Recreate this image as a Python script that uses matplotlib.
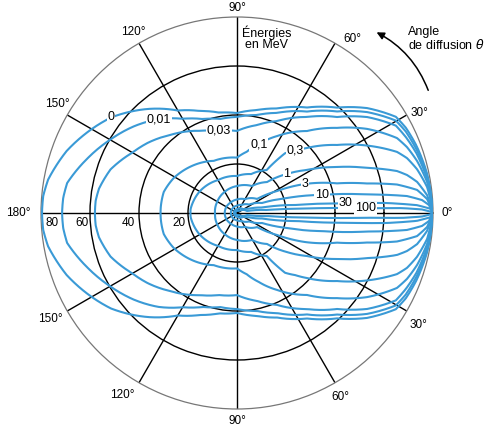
import numpy as np
import matplotlib
matplotlib.use('Agg')
import matplotlib.pyplot as plt

plt.rcParams['font.family'] = ['Liberation Sans', 'DejaVu Sans']

# cross section (per steradian) vs scattering angle, upper half only
energies = ['0', '0,01', '0,03', '0,1', '0,3', '1', '3', '10', '30', '100']

theta_0 = [0, 11.9, 20.7, 26.8, 31.2, 38.9, 46.5, 56.4, 69, 79, 90, 100, 110, 120, 130, 142.8, 150, 160, 170, 175, 180]
sigma_0 = [80, 79.2, 78.2, 77.2, 75.8, 68.2, 59.3, 51.7, 45.7, 42.8, 40.8, 41.6, 44.3, 48.3, 55.5, 64.5, 68.5, 74, 78.3, 79.4, 79.6]

theta_001 = [0, 11.3, 19.6, 25.8, 30.2, 37.8, 45.4, 55.4, 68.2, 78.5, 90, 100, 110, 120, 129.8, 140, 150, 160, 170, 175, 180]
sigma_001 = [80, 79, 77.7, 76.5, 75, 67.2, 58.2, 50.3, 44, 40.8, 39.2, 39, 40.8, 44.4, 49.9, 55, 59.8, 65, 70.4, 71.2, 71.4]

theta_003 = [0, 10.4, 18.4, 24.1, 28.8, 36.4, 43.8, 53.9, 66.5, 77.2, 90, 102.6, 114, 130.5, 142, 150, 161, 170, 175, 180]
sigma_003 = [80, 78.8, 77.2, 75.6, 74, 66, 56.6, 48.5, 40.9, 36.8, 33.5, 34.3, 36.7, 41.9, 46.4, 49.3, 54.6, 57.2, 57.9, 58]

theta_01 = [0, 9.3, 16.1, 21.2, 25.1, 32.9, 40.4, 49.5, 62.5, 72.5, 81, 90, 114, 135, 151, 164, 175, 180]
sigma_01 = [80, 78.6, 76.5, 74.4, 72.1, 63.2, 53.6, 44, 35.4, 29.5, 25.3, 22.6, 23.3, 26.8, 29.5, 31.1, 31.2, 31.2]

theta_03 = [0, 7.8, 13.7, 17.9, 20.9, 27.4, 34.2, 42.9, 46.9, 51.2, 55.4, 70, 90, 120, 150, 175, 180]
sigma_03 = [80, 78.3, 75.6, 72.9, 69.9, 59.8, 49.4, 39, 34.7, 31.3, 21.3, 16.9, 15.1, 15.5, 17.6, 19, 19]

theta_1 = [0, 5.4, 9.8, 12.6, 14.7, 19.1, 24.7, 31.6, 38, 45.9, 60.9, 90, 120, 150, 180]
sigma_1 = [80, 77.9, 74.6, 71.1, 67.5, 56.2, 44.9, 33.5, 25.9, 17.6, 12.6, 11, 10, 9.3, 9]

theta_3 = [0, 4.2, 7.3, 10.1, 12.8, 16.5, 23.1, 28.8, 35, 60, 90, 120, 150, 180]
sigma_3 = [80, 77.8, 74.1, 66.3, 54.4, 42.6, 30.2, 18.6, 10, 6.5, 5.5, 5, 5, 5]

theta_10 = [0, 2.4, 4, 5.7, 8.1, 12, 16.7, 21.8, 35, 60, 90, 135, 180]
sigma_10 = [80, 78.4, 75.7, 69.7, 53.6, 35.5, 21.3, 11, 6, 3.8, 3, 2.6, 2.5]

theta_30 = [0, 1.3, 2.5, 3.8, 5.1, 7.6, 12.4, 20, 30, 90, 180]
sigma_30 = [80, 78.8, 73.5, 61.4, 44.6, 24.7, 10.4, 5, 3, 1.5, 1.2]

theta_100 = [0, 0.45, 1.1, 1.7, 2.1, 3.7, 5.7, 11.3, 45, 90, 180]
sigma_100 = [80, 78.8, 75.5, 67.4, 52.4, 28.6, 12.3, 4.2, 1.2, 0.8, 0.6]

curves = [(theta_0, sigma_0), (theta_001, sigma_001), (theta_003, sigma_003),
          (theta_01, sigma_01), (theta_03, sigma_03), (theta_1, sigma_1),
          (theta_3, sigma_3), (theta_10, sigma_10), (theta_30, sigma_30),
          (theta_100, sigma_100)]

# where each energy label sits on its curve (angle, radius)
label_theta = [142.8, 129.8, 102.6, 72.5, 46.9, 38, 22.8, 12, 5.1, 2.1]
label_sigma = [64.5, 49.9, 34.3, 29.5, 34.7, 25.9, 30.2, 35.5, 44.6, 52.4]

rings = [20, 40, 60, 80]
ring_label_theta = [189.8, 185.3, 183.7, 183.1]
ring_label_r = [24, 44.5, 63.5, 75.7]

angle_ticks = [0, 30, 60, 90, 120, 150, 180, 210, 240, 270, 300, 330]
angle_names = ['0°', '30°', '60°', '90°', '120°', '150°', '180°',
               '150°', '120°', '90°', '60°', '30°']
angle_label_theta = [0, 28.8, 56.5, 90, 119.9, 148.8, 180, 209.5, 237.7, 270, 299.2, 328.3]
angle_label_r = [85.7, 84.8, 85.1, 83.7, 85.2, 85.7, 89.4, 87.7, 87.9, 84.9, 86.1, 86.9]

blue = '#3a9ad6'

fig = plt.figure(figsize=(4.89, 4.30), dpi=100)
ax = fig.add_axes([41 / 489, 21 / 430, 392 / 489, 392 / 430], projection='polar')
ax.set_ylim(0, 80)
ax.set_rgrids([20, 40, 60], labels=['', '', ''])
ax.set_thetagrids(angle_ticks, labels=[''] * len(angle_ticks))
ax.grid(True, color='black', lw=1.0)
ax.spines['polar'].set_color('#777777')
ax.spines['polar'].set_linewidth(0.9)
ax.tick_params(length=0)

for th, s in curves:
    th = np.array(th, dtype=float)
    s = np.array(s, dtype=float)
    # mirror the upper half onto the lower half
    full_t = np.deg2rad(np.concatenate([th, 360 - th[::-1]]))
    full_s = np.concatenate([s, s[::-1]])
    line, = ax.plot(full_t, full_s, color=blue, lw=1.5, zorder=3,
                    solid_joinstyle='round')
    line.get_path()._interpolation_steps = 24

for name, t, r in zip(energies, label_theta, label_sigma):
    ax.text(np.deg2rad(t), r, name, ha='center', va='center', fontsize=9,
            zorder=5, bbox=dict(facecolor='white', edgecolor='none', pad=0.5))

for ring, t, r in zip(rings, ring_label_theta, ring_label_r):
    ax.text(np.deg2rad(t), r, str(ring), ha='center', va='center', fontsize=8.5)

for name, t, r in zip(angle_names, angle_label_theta, angle_label_r):
    ax.text(np.deg2rad(t), r, name, ha='center', va='center', fontsize=8.5,
            clip_on=False)

ax.annotate('', xy=(np.deg2rad(53), 93), xytext=(np.deg2rad(32), 92.5),
            arrowprops=dict(arrowstyle='-|>', color='black', lw=1.1,
                            connectionstyle='arc3,rad=0.2', mutation_scale=11),
            annotation_clip=False)

fig.text(267 / 489, 1 - 25 / 430, 'Énergies\nen MeV', ha='center', va='top',
         fontsize=9, linespacing=0.97)
fig.text(408 / 489, 1 - 26 / 430, 'Angle\nde diffusion $\\theta$', ha='left', va='top',
         fontsize=9, linespacing=0.97)

fig.savefig('out.png', dpi=100)
